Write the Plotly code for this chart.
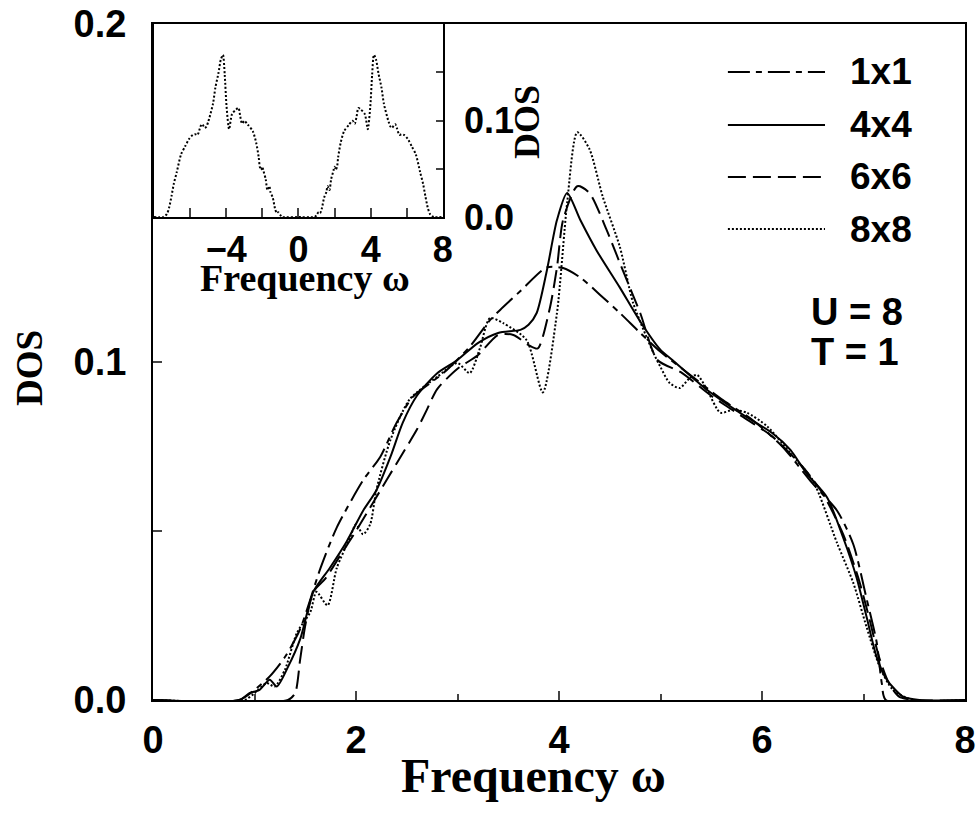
import plotly.graph_objects as go

# DOS curves (frequency omega, DOS)

omega_1x1 = [0, 0.85, 1.0, 1.15, 1.3, 1.45, 1.65, 1.81, 2.07, 2.24, 2.4, 2.56, 2.86, 3.12, 3.32, 3.42,
             3.62, 3.88, 4.04, 4.21, 4.4, 4.6, 4.8, 5.0, 5.3, 5.6, 5.9, 6.2, 6.5, 6.74, 6.9, 7.03,
             7.13, 7.18, 7.22, 8]
dos_1x1 = [0, 0, 0.003, 0.007, 0.0127, 0.021, 0.039, 0.051, 0.065, 0.072, 0.082, 0.0897, 0.0967, 0.1045, 0.1124, 0.1154,
           0.121, 0.128, 0.1278, 0.125, 0.12, 0.1145, 0.1086, 0.103, 0.096, 0.089, 0.083, 0.075, 0.064, 0.056, 0.046, 0.030,
           0.017, 0.005, 0, 0]

omega_4x4 = [0, 0.85, 0.95, 1.05, 1.15, 1.22, 1.33, 1.45, 1.58, 1.74, 1.91, 2.07, 2.2, 2.34, 2.46, 2.6,
             2.8, 3.0, 3.2, 3.4, 3.62, 3.7, 3.78, 3.88, 3.98, 4.08, 4.21, 4.37, 4.6, 4.8, 5.0, 5.12,
             5.46, 5.78, 6.1, 6.28, 6.44, 6.64, 6.8, 6.93, 7.03, 7.13, 7.23, 7.39, 7.55, 8]
dos_4x4 = [0, 0, 0.002, 0.003, 0.006, 0.004, 0.0098, 0.018, 0.032, 0.039, 0.047, 0.056, 0.062, 0.072, 0.082, 0.09,
           0.0967, 0.1006, 0.1056, 0.1086, 0.1095, 0.111, 0.1145, 0.127, 0.142, 0.150, 0.142, 0.133, 0.122, 0.112, 0.1036, 0.1005,
           0.0917, 0.085, 0.079, 0.074, 0.067, 0.060, 0.048, 0.0364, 0.0246, 0.0127, 0.006, 0.001, 0, 0]

omega_6x6 = [0, 1.33, 1.4, 1.45, 1.5, 1.58, 1.7, 1.85, 2.0, 2.2, 2.4, 2.6, 2.7, 2.8, 3.0, 3.2,
             3.4, 3.55, 3.7, 3.79, 3.91, 3.98, 4.04, 4.18, 4.3, 4.47, 4.63, 4.8, 4.97, 5.2, 5.5, 5.8,
             6.1, 6.4, 6.6, 6.8, 6.95, 7.05, 7.15, 7.25, 7.35, 7.5, 8]
dos_6x6 = [0, 0, 0.002, 0.012, 0.022, 0.032, 0.036, 0.043, 0.05, 0.06, 0.07, 0.08, 0.086, 0.092, 0.098, 0.102,
           0.108, 0.108, 0.105, 0.104, 0.116, 0.128, 0.142, 0.152, 0.150, 0.139, 0.127, 0.1145, 0.1006, 0.097, 0.090, 0.084,
           0.078, 0.069, 0.061, 0.049, 0.036, 0.025, 0.013, 0.005, 0.001, 0, 0]

omega_8x8 = [0, 0.9, 1.0, 1.12, 1.2, 1.3, 1.42, 1.55, 1.61, 1.72, 1.81, 1.94, 2.0, 2.07, 2.14, 2.2,
             2.34, 2.53, 2.8, 3.0, 3.12, 3.22, 3.32, 3.45, 3.68, 3.84, 3.98, 4.08, 4.18, 4.3, 4.43, 4.6,
             4.73, 4.93, 5.0, 5.09, 5.19, 5.28, 5.36, 5.46, 5.59, 5.71, 5.85, 6.05, 6.28, 6.5, 6.74, 6.9,
             7.03, 7.16, 7.29, 7.49, 8]
dos_8x8 = [0, 0, 0.002, 0.005, 0.004, 0.009, 0.02, 0.026, 0.032, 0.028, 0.039, 0.048, 0.052, 0.049, 0.052, 0.062,
           0.077, 0.089, 0.0956, 0.0997, 0.0967, 0.104, 0.113, 0.1115, 0.1065, 0.091, 0.1145, 0.147, 0.168, 0.163, 0.149, 0.134,
           0.1175, 0.1027, 0.0985, 0.0938, 0.0923, 0.095, 0.0962, 0.0917, 0.085, 0.0858, 0.085, 0.081, 0.073, 0.065, 0.0464, 0.0346,
           0.0216, 0.0098, 0.003, 0, 0]

series_names = ['1x1', '4x4', '6x6', '8x8']

# inset shows the 8x8 curve over the full symmetric range
omega_inset = [-w for w in reversed(omega_8x8)] + omega_8x8
dos_inset = list(reversed(dos_8x8)) + dos_8x8

# Styles

dashes = ['22px,6px,6px,6px', 'solid', '18px,7px', '2px,2px']
sans = dict(family='Liberation Sans', color='black', weight='bold')
serif = dict(family='Liberation Serif', color='black', weight='bold')

fig = go.Figure()

all_omega = [omega_1x1, omega_4x4, omega_6x6, omega_8x8]
all_dos = [dos_1x1, dos_4x4, dos_6x6, dos_8x8]
for i in range(len(series_names)):
    fig.add_trace(go.Scatter(x=all_omega[i], y=all_dos[i], mode='lines', name=series_names[i],
                             line=dict(color='black', width=2, dash=dashes[i], shape='spline', smoothing=0.7),
                             showlegend=False))

fig.add_trace(go.Scatter(x=omega_inset, y=dos_inset, mode='lines', name='8x8 inset',
                         line=dict(color='black', width=2, dash=dashes[3], shape='spline', smoothing=0.7),
                         xaxis='x2', yaxis='y2', showlegend=False))

# Legend drawn by hand so the line samples are long like the original

legend_y = [0.929, 0.8506, 0.7737, 0.6967]
for i in range(len(series_names)):
    fig.add_shape(type='line', xref='paper', yref='paper', x0=0.708, x1=0.8276,
                  y0=legend_y[i], y1=legend_y[i], line=dict(color='black', width=2, dash=dashes[i]))
    fig.add_annotation(text=series_names[i], xref='paper', yref='paper', x=0.856, y=legend_y[i],
                       xanchor='left', yanchor='middle', showarrow=False, font=dict(size=37, **sans))

fig.add_annotation(text='U = 8', xref='paper', yref='paper', x=0.867, y=0.574, xanchor='center',
                   yanchor='middle', showarrow=False, font=dict(size=38, **sans))
fig.add_annotation(text='T = 1', xref='paper', yref='paper', x=0.865, y=0.5148, xanchor='center',
                   yanchor='middle', showarrow=False, font=dict(size=38, **sans))

# Axis titles

fig.add_annotation(text='Frequency ω', xref='paper', yref='paper', x=0.469, y=-0.111, xanchor='center',
                   yanchor='middle', showarrow=False, font=dict(size=48, **serif))
fig.add_annotation(text='DOS', xref='paper', yref='paper', x=-0.1527, y=0.491, textangle=-90,
                   xanchor='center', yanchor='middle', showarrow=False, font=dict(size=37, **serif))
fig.add_annotation(text='Frequency ω', xref='paper', yref='paper', x=0.187, y=(700 - 278) / 676,
                   xanchor='center', yanchor='middle', showarrow=False, font=dict(size=38, **serif))
fig.add_annotation(text='DOS', xref='paper', yref='paper', x=0.4606, y=0.855, textangle=-90,
                   xanchor='center', yanchor='middle', showarrow=False, font=dict(size=36, **serif))

fig.update_layout(
    width=977, height=816,
    margin=dict(l=153, r=12, t=24, b=116),
    paper_bgcolor='white', plot_bgcolor='white',
    xaxis=dict(range=[0, 8], tickvals=[0, 2, 4, 6, 8], ticks='inside', ticklen=9, tickwidth=2,
               minor=dict(dtick=1, ticks='inside', ticklen=6, tickwidth=1.5),
               showline=True, linewidth=2, linecolor='black', mirror=True, showgrid=False, zeroline=False,
               tickfont=dict(size=38, **sans), ticklabelstandoff=5, automargin=False),
    yaxis=dict(range=[0, 0.2], tickvals=[0, 0.1, 0.2], tickformat='.1f', ticks='inside', ticklen=9, tickwidth=2,
               minor=dict(dtick=0.05, ticks='inside', ticklen=9, tickwidth=1.5),
               showline=True, linewidth=2, linecolor='black', mirror=True, showgrid=False, zeroline=False,
               tickfont=dict(size=38, **sans), ticklabelstandoff=17, automargin=False),
    xaxis2=dict(domain=[0.0012, 0.357], anchor='y2', range=[-8, 8], tickvals=[-4, 0, 4, 8],
                ticktext=['−4', '0', '4', '8'], ticks='inside', ticklen=9, tickwidth=2,
                minor=dict(dtick=2, ticks='inside', ticklen=9, tickwidth=2),
                showline=True, linewidth=2, linecolor='black', mirror=True, showgrid=False, zeroline=False,
                tickfont=dict(size=36, **sans), ticklabelstandoff=0, automargin=False),
    yaxis2=dict(domain=[0.7145, 1.0], anchor='x2', side='right', range=[0, 0.2], tickvals=[0, 0.1],
                tickformat='.1f', ticks='inside', ticklen=7, tickwidth=2,
                minor=dict(dtick=0.05, ticks='inside', ticklen=7, tickwidth=2),
                showline=True, linewidth=2, linecolor='black', mirror=True, showgrid=False, zeroline=False,
                tickfont=dict(size=36, **sans), ticklabelstandoff=12, automargin=False),
)

# drop the default page margin so the figure sits at the window corner
fig.write_html('out.html', config={'displayModeBar': False},
               post_script="document.body.style.margin='0';")
